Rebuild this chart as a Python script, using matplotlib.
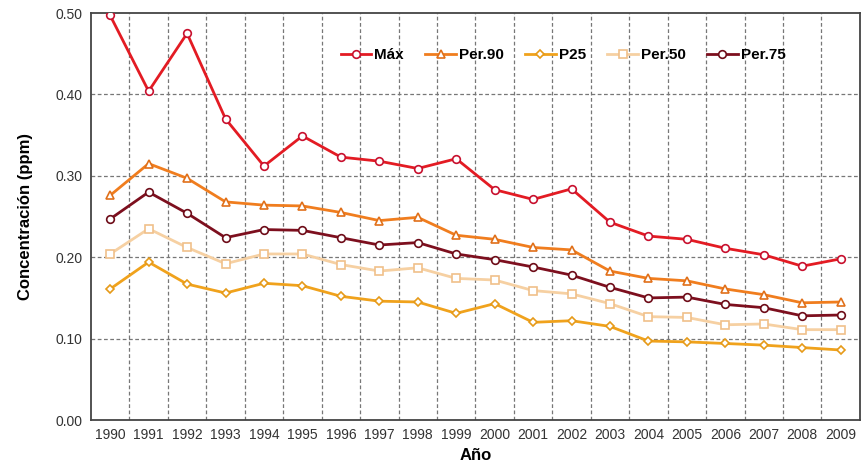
import matplotlib.pyplot as plt
import numpy as np

plt.rcParams['font.family'] = ['Liberation Sans', 'DejaVu Sans']

# datos
years = list(range(1990, 2010))
maxv = [0.497, 0.404, 0.475, 0.370, 0.312, 0.349, 0.323, 0.318, 0.309, 0.321,
        0.283, 0.271, 0.284, 0.243, 0.226, 0.222, 0.211, 0.203, 0.189, 0.198]
per90 = [0.276, 0.315, 0.297, 0.268, 0.264, 0.263, 0.255, 0.245, 0.249, 0.227,
         0.222, 0.212, 0.209, 0.183, 0.174, 0.171, 0.161, 0.154, 0.144, 0.145]
p25 = [0.161, 0.194, 0.167, 0.156, 0.168, 0.165, 0.152, 0.146, 0.145, 0.131,
       0.143, 0.120, 0.122, 0.115, 0.097, 0.096, 0.094, 0.092, 0.089, 0.086]
per50 = [0.204, 0.235, 0.212, 0.192, 0.204, 0.204, 0.191, 0.183, 0.187, 0.174,
         0.172, 0.159, 0.155, 0.143, 0.127, 0.126, 0.117, 0.118, 0.111, 0.111]
per75 = [0.247, 0.280, 0.254, 0.224, 0.234, 0.233, 0.224, 0.215, 0.218, 0.204,
         0.197, 0.188, 0.178, 0.163, 0.150, 0.151, 0.142, 0.138, 0.128, 0.129]

series = [
    ('Máx', maxv, '#e31b23', '#c8102e', 'o', 5.5),
    ('Per.90', per90, '#f07d1e', '#e0701a', '^', 5.5),
    ('P25', p25, '#f0a21c', '#e69a18', 'D', 4),
    ('Per.50', per50, '#f6d0a2', '#f0c08a', 's', 5.5),
    ('Per.75', per75, '#7d0f1e', '#6e0c18', 'o', 5.5),
]

fig = plt.figure(figsize=(8.63, 4.66), dpi=100)
ax = fig.add_axes([0.1054, 0.0987, 0.891, 0.8733])

for name, vals, col, edge, mk, ms in series:
    ax.plot(years, vals, '-', color=col, lw=2, marker=mk, markersize=ms,
            markerfacecolor='white', markeredgecolor=edge, markeredgewidth=1.2,
            label=name, zorder=3)

ax.set_xlim(1989.5, 2009.5)
ax.set_ylim(0, 0.5)
ax.set_xticks(years)
ax.set_xticklabels([str(y) for y in years], fontsize=10, color='#333333')
yt = np.arange(0, 0.51, 0.1)
ax.set_yticks(yt)
ax.set_yticklabels(['%.2f' % v for v in yt], fontsize=10, color='#333333')
ax.tick_params(length=0, pad=6)

# lineas de la rejilla
for v in yt[1:-1]:
    ax.axhline(v, color='#777777', ls=(0, (3, 2)), lw=0.9, zorder=1)
for x in np.arange(1990.5, 2009.5, 1):
    ax.axvline(x, color='#777777', ls=(0, (3, 2)), lw=0.9, zorder=1)

for s in ax.spines.values():
    s.set_color('#444444')
    s.set_linewidth(1.3)

ax.set_xlabel('Año', fontsize=12, fontweight='bold', labelpad=4)
ax.set_ylabel('Concentración (ppm)', fontsize=12, fontweight='bold', labelpad=16)

leg = ax.legend(loc='upper center', bbox_to_anchor=(0.614, 0.948), ncol=5,
                frameon=False, handlelength=2.0, handletextpad=0.2,
                columnspacing=1.4, prop={'weight': 'bold', 'size': 11})

fig.savefig('out.png', dpi=100)
